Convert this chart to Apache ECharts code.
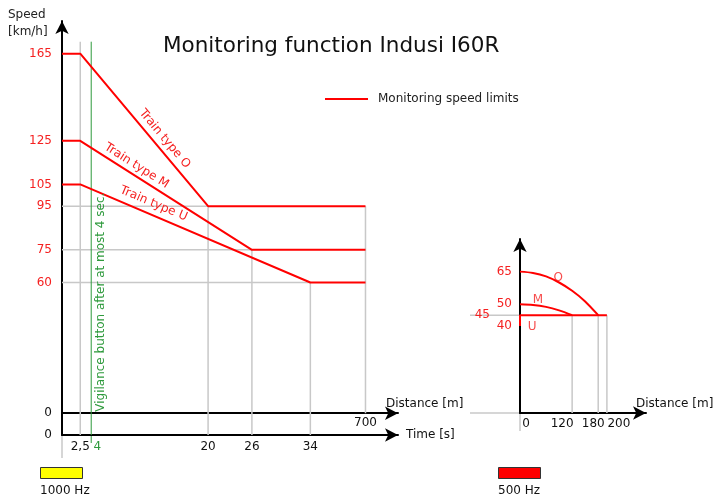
<!DOCTYPE html>
<html>
<head>
<meta charset="utf-8">
<script src="https://cdn.jsdelivr.net/npm/echarts@6/dist/echarts.min.js"></script>
<style>
  html, body { margin: 0; padding: 0; background: #fff; }
  #chart { width: 717px; height: 498px; }
</style>
</head>
<body>
<div id="chart"></div>
<script>
// ---- 1000 Hz magnet: monitored speed over time ----
const trainTypes = ['O', 'M', 'U'];
const startSpeeds = [165, 125, 105];     // km/h, upper limit at the magnet
const releaseTimes = [20, 26, 34];        // s, end of the braking check
const targetSpeeds = [95, 75, 60];        // km/h, limit after the check
const reactionTime = 2.5;                 // s before the limit starts to fall
const vigilanceTime = 4;                  // s, latest acknowledgement
const monitorDistance = 700;              // m, end of 1000 Hz monitoring
const timeTicks = [2.5, 4, 20, 26, 34];
const speedTicks = [0, 60, 75, 95, 105, 125, 165];

// ---- 500 Hz magnet: monitored speed over distance ----
const curveODist = [0, 30, 60, 90, 120, 150, 180];
const curveOSpeed = [65, 64.4, 62.8, 60, 56.2, 51.3, 45];
const curveMDist = [0, 30, 60, 90, 120];
const curveMSpeed = [50, 49.7, 48.8, 47.2, 45];
const curveUDist = [0, 0, 200];
const curveUSpeed = [40, 45, 45];
const distTicks500 = [0, 120, 180, 200];
const speedTicks500 = [40, 45, 50, 65];

const FONT = 'DejaVu Sans';
const RED = '#ff0000';
const TEXT_RED = '#f52020';
const GREY = '#c8c8c8';
const GREEN = '#2e9a3c';
const LEGEND_NAME = 'Monitoring speed limits';

const chart = echarts.init(document.getElementById('chart'));

const arrowLine = {
  show: true,
  onZero: false,
  symbol: ['none', 'arrow'],
  symbolSize: [10, 13],
  lineStyle: { color: '#000', width: 2 }
};

function greySeg(points, xAxisIndex, yAxisIndex, color, width) {
  return {
    type: 'line', xAxisIndex, yAxisIndex, data: points,
    symbol: 'none', silent: true, z: 1,
    lineStyle: { color: color || GREY, width: width || 1.5 },
    emphasis: { disabled: true }, tooltip: { show: false }
  };
}

function buildOption(tEnd, distOffset) {
  const series = [];

  // guide lines of the time chart
  releaseTimes.forEach((t, i) => {
    series.push(greySeg([[t, -10], [t, targetSpeeds[i]]], 0, 0));
    series.push(greySeg([[0, targetSpeeds[i]], [t, targetSpeeds[i]]], 0, 0));
  });
  series.push(greySeg([[reactionTime, -10], [reactionTime, 170.5]], 0, 0));
  series.push(greySeg([[vigilanceTime, -10], [vigilanceTime, 170.5]], 0, 0, GREEN, 1));
  series.push(greySeg([[monitorDistance, 0], [monitorDistance, targetSpeeds[0]]], 1, 0));

  // monitoring limits per train type
  trainTypes.forEach((tp, i) => {
    series.push({
      name: LEGEND_NAME,
      type: 'line', xAxisIndex: 0, yAxisIndex: 0, z: 3,
      symbol: 'none', silent: true,
      lineStyle: { color: RED, width: 2 },
      itemStyle: { color: RED },
      data: [[0, startSpeeds[i]], [reactionTime, startSpeeds[i]],
             [releaseTimes[i], targetSpeeds[i]], [tEnd, targetSpeeds[i]]]
    });
  });

  // guide lines of the distance chart
  distTicks500.slice(1).forEach(d => {
    series.push(greySeg([[d, 0], [d, 45]], 2, 1));
  });

  const curves = [
    { name: 'O', x: curveODist, y: curveOSpeed, smooth: 0.3, lab: [88, 62.3] },
    { name: 'M', x: curveMDist, y: curveMSpeed, smooth: 0.3, lab: [41, 52.2] },
    { name: 'U', x: curveUDist, y: curveUSpeed, smooth: false, lab: [28, 39.6] }
  ];
  curves.forEach(c => {
    series.push({
      type: 'line', xAxisIndex: 2, yAxisIndex: 1, z: 3,
      symbol: 'none', silent: true, smooth: c.smooth,
      lineStyle: { color: RED, width: 2 },
      data: c.x.map((d, k) => [d, c.y[k]])
    });
  });
  series.push({
    type: 'scatter', xAxisIndex: 2, yAxisIndex: 1, symbolSize: 0, silent: true,
    label: {
      show: true, position: 'inside', color: TEXT_RED,
      fontFamily: FONT, fontSize: 12,
      formatter: p => p.data[2]
    },
    data: curves.map(c => [c.lab[0], c.lab[1], c.name])
  });

  return {
    animation: false,
    backgroundColor: '#fff',
    textStyle: { fontFamily: FONT },
    title: [
      {
        text: 'Monitoring function Indusi I60R',
        left: 158, top: 30,
        textStyle: { fontFamily: FONT, fontSize: 21.5, fontWeight: 'normal', color: '#111' }
      },
      {
        text: 'Speed\n[km/h]',
        left: 3, top: 1,
        textStyle: { fontFamily: FONT, fontSize: 12, fontWeight: 'normal', color: '#222', lineHeight: 17 }
      }
    ],
    legend: {
      data: [LEGEND_NAME],
      left: 325, top: 93,
      itemWidth: 43, itemHeight: 14, itemGap: 0,
      padding: 0,
      textStyle: { fontFamily: FONT, fontSize: 12, color: '#222', padding: [0, 0, 0, 5] },
      icon: 'path://M0,6 L43,6 L43,8 L0,8 Z',
      selectedMode: false
    },
    grid: [
      { left: 62, top: 21, width: 336, height: 414 },
      { left: 520, top: 239, width: 126, height: 174 }
    ],
    xAxis: [
      {
        gridIndex: 0, type: 'value', min: 0, max: 46, position: 'bottom',
        name: 'Time [s]', nameLocation: 'end', nameGap: 8,
        nameTextStyle: { fontFamily: FONT, fontSize: 12, color: '#111' },
        axisLine: arrowLine,
        axisTick: { show: false }, splitLine: { show: false },
        axisLabel: {
          customValues: timeTicks, margin: 6,
          fontFamily: FONT, fontSize: 12, color: '#111',
          formatter: v => v === vigilanceTime ? '{g|4}' : String(v).replace('.', ','),
          rich: { g: { color: GREEN, fontFamily: FONT, fontSize: 12, padding: [0, 0, 0, 12] } }
        }
      },
      {
        // distance scale runs along the zero-speed line
        gridIndex: 0, type: 'value', min: 0, max: 775, position: 'bottom',
        offset: distOffset,
        name: 'Distance [m]', nameLocation: 'end', nameGap: -12,
        nameTextStyle: { fontFamily: FONT, fontSize: 12, color: '#111', align: 'left', verticalAlign: 'bottom', padding: [0, 0, 3, 0] },
        axisLine: arrowLine,
        axisTick: { show: false }, splitLine: { show: false },
        axisLabel: {
          customValues: [monitorDistance], margin: 4,
          fontFamily: FONT, fontSize: 12, color: '#111'
        }
      },
      {
        gridIndex: 1, type: 'value', min: 0, max: 290, position: 'bottom',
        name: 'Distance [m]', nameLocation: 'end', nameGap: -10,
        nameTextStyle: { fontFamily: FONT, fontSize: 12, color: '#111', align: 'left', verticalAlign: 'bottom', padding: [0, 0, 3, 0] },
        axisLine: arrowLine,
        axisTick: { show: false }, splitLine: { show: false },
        axisLabel: {
          customValues: distTicks500, margin: 5,
          fontFamily: FONT, fontSize: 12, color: '#111',
          formatter: v => '{d' + v + '|' + v + '}',
          rich: {
            d0: { padding: [0, 0, 0, 12] },
            d120: { padding: [0, 20, 0, 0] },
            d180: { padding: [0, 10, 0, 0] },
            d200: { padding: [0, 0, 0, 24] }
          }
        }
      }
    ],
    yAxis: [
      {
        gridIndex: 0, type: 'value', min: -10, max: 180,
        axisLine: arrowLine,
        axisTick: { show: false }, splitLine: { show: false },
        axisLabel: {
          // the row below zero carries the time axis; its origin sits with the speed labels
          customValues: [-10].concat(speedTicks), margin: 10,
          fontFamily: FONT, fontSize: 12,
          color: v => (v <= 0 ? '#111' : TEXT_RED),
          formatter: v => (v === -10 ? '0' : String(v))
        }
      },
      {
        gridIndex: 1, type: 'value', min: 0, max: 80,
        axisLine: arrowLine,
        axisTick: { show: false }, splitLine: { show: false },
        axisLabel: {
          customValues: speedTicks500, margin: 8,
          fontFamily: FONT, fontSize: 12, color: TEXT_RED,
          formatter: v => (v === 45 ? '{s|45}' : String(v)),
          rich: { s: { color: TEXT_RED, fontFamily: FONT, fontSize: 12, padding: [0, 22, 0, 0] } }
        }
      }
    ],
    series
  };
}

// first pass lays out the axes, the second places the distance scale
// on the zero-speed line and ends the limits at the end of monitoring
chart.setOption(buildOption(40, 0));
const zeroOffset = chart.convertToPixel({ yAxisIndex: 0 }, 0) - chart.convertToPixel({ yAxisIndex: 0 }, -10);
const endPx = chart.convertToPixel({ xAxisIndex: 1 }, monitorDistance);
const tEnd = chart.convertFromPixel({ xAxisIndex: 0 }, endPx);
chart.setOption(buildOption(tEnd, zeroOffset), true);

const px = v => chart.convertToPixel({ xAxisIndex: 0 }, v);
const py = v => chart.convertToPixel({ yAxisIndex: 0 }, v);
const px2 = v => chart.convertToPixel({ xAxisIndex: 2 }, v);
const py2 = v => chart.convertToPixel({ yAxisIndex: 1 }, v);

// rotated captions along the falling limits
const captionPos = [0.60, 0.30, 0.30];
const captionOff = [10, 9, 11];
const graphics = trainTypes.map((tp, i) => {
  const x1 = px(reactionTime), y1 = py(startSpeeds[i]);
  const x2 = px(releaseTimes[i]), y2 = py(targetSpeeds[i]);
  const dx = x2 - x1, dy = y2 - y1, len = Math.hypot(dx, dy);
  const nx = dy / len, ny = -dx / len;
  const f = captionPos[i];
  return {
    type: 'text',
    x: x1 + f * dx + captionOff[i] * nx,
    y: y1 + f * dy + captionOff[i] * ny,
    rotation: -Math.atan2(dy, dx),
    style: {
      text: 'Train type ' + tp, fill: TEXT_RED,
      font: '12px "' + FONT + '"', align: 'center', verticalAlign: 'middle'
    },
    z: 10
  };
});

graphics.push({
  type: 'text',
  x: px(vigilanceTime) + 10, y: py(0) - 111,
  rotation: Math.PI / 2,
  style: {
    text: 'Vigilance button after at most 4 sec.', fill: GREEN,
    font: '12px "' + FONT + '"', align: 'center', verticalAlign: 'middle'
  },
  z: 10
});

// short extensions past the axes
const extLine = (x1, y1, x2, y2, stroke, lineWidth) => ({
  type: 'line', shape: { x1, y1, x2, y2 },
  style: { stroke: stroke || GREY, lineWidth: lineWidth || 1.5 }, z: 0, silent: true
});
graphics.push(extLine(px(0), py(-10), px(0), py(-10) + 23));
graphics.push(extLine(px(vigilanceTime), py(-10), px(vigilanceTime), py(-10) + 8, GREEN, 1));
graphics.push(extLine(px2(0) - 50, py2(45), px2(0), py2(45)));
graphics.push(extLine(px2(0) - 50, py2(0), px2(0), py2(0)));
graphics.push(extLine(px2(0), py2(0), px2(0), py2(0) + 18));

// magnet frequency markers
const magnets = [
  { x: 40, color: '#ffff00', text: '1000 Hz' },
  { x: 498, color: '#ff0000', text: '500 Hz' }
];
magnets.forEach(m => {
  graphics.push({
    type: 'rect', shape: { x: m.x + 0.5, y: 467.5, width: 42, height: 11 },
    style: { fill: m.color, stroke: '#333', lineWidth: 1 }, silent: true
  });
  graphics.push({
    type: 'text', x: m.x, y: 485,
    style: { text: m.text, fill: '#111', font: '12px "' + FONT + '"' }, silent: true
  });
});

chart.setOption({ graphic: graphics });
</script>
</body>
</html>
